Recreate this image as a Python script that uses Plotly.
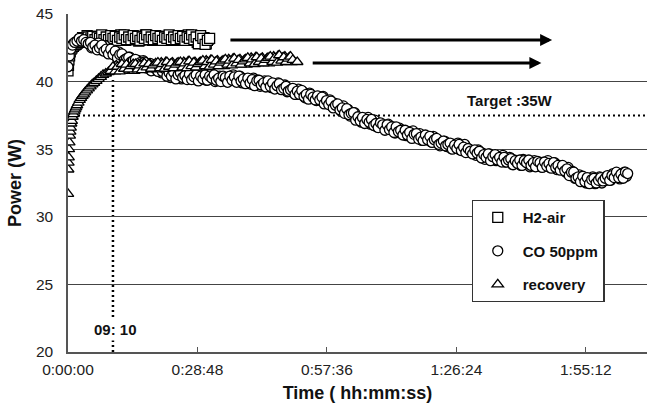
import plotly.graph_objects as go

# ---------------- data (time in minutes, power in W) ----------------
h2_time = [0, 0.1, 0.2, 0.35, 0.5, 0.7, 0.9, 1.2, 1.5, 1.8, 2.1, 2.4, 2.7,
           3.0, 3.5, 4.0, 4.5, 5.0, 5.5, 6.0, 6.5, 7.0, 7.5,
           8.0, 8.5, 9.0, 9.5, 10.0, 10.5, 11.0, 11.5, 12.0, 12.5,
           13.0, 13.5, 14.0, 14.5, 15.0, 15.5, 16.0, 16.5, 17.0, 17.5,
           18.0, 18.5, 19.0, 19.5, 20.0, 20.5, 21.0, 21.5, 22.0, 22.5,
           23.0, 23.5, 24.0, 24.5, 25.0, 25.5, 26.0, 26.5, 27.0, 27.5,
           28.0, 28.5, 29.0, 29.5, 30.0, 30.5, 31.0, 31.5]
h2_power = [40.8, 41.2, 41.6, 41.9, 42.2, 42.4, 42.5, 42.6, 42.7, 42.75, 42.85, 42.9, 43.0,
            43.1, 43.2, 43.05, 43.3, 43.15, 43.35, 43.1, 43.3, 43.2, 43.45,
            43.1, 43.3, 43.1, 43.4, 43.2, 43.35, 43.05, 43.3, 43.2, 43.45,
            43.1, 43.3, 43.1, 43.4, 43.2, 43.35, 43.05, 43.3, 43.2, 43.45,
            43.1, 43.3, 43.1, 43.4, 43.2, 43.35, 43.05, 43.3, 43.2, 43.45,
            43.1, 43.3, 43.1, 43.4, 43.2, 43.35, 43.05, 43.3, 43.2, 43.45,
            43.1, 43.3, 42.8, 43.4, 43.2, 42.75, 43.05, 43.2]
# intermediate samples (quarter minutes)
h2_time_q = [3.25, 3.75, 4.25, 4.75, 5.25, 5.75, 6.25, 6.75, 7.25, 7.75,
             8.25, 8.75, 9.25, 9.75, 10.25, 10.75, 11.25, 11.75, 12.25, 12.75,
             13.25, 13.75, 14.25, 14.75, 15.25, 15.75, 16.25, 16.75, 17.25, 17.75,
             18.25, 18.75, 19.25, 19.75, 20.25, 20.75, 21.25, 21.75, 22.25, 22.75,
             23.25, 23.75, 24.25, 24.75, 25.25, 25.75, 26.25, 26.75, 27.25, 27.75,
             28.25, 28.75, 29.25, 29.75, 30.25, 30.75, 31.25]
h2_power_q = [43.25, 43.05, 43.4, 43.15, 43.3, 43.0, 43.35, 43.2, 43.1, 43.4,
              43.2, 43.35, 43.05, 43.4, 43.15, 43.3, 43.1, 43.45, 43.2, 43.05,
              43.3, 43.1, 43.4, 43.2, 43.35, 43.0, 43.3, 43.15, 43.45, 43.1,
              43.25, 43.05, 43.4, 43.15, 43.3, 43.1, 43.35, 43.2, 43.05, 43.4,
              43.2, 43.35, 43.05, 43.4, 43.15, 43.3, 43.1, 43.45, 43.2, 43.05,
              43.3, 42.9, 43.35, 43.1, 43.25, 42.8, 43.15]

co_time = [0, 0.3, 0.6, 1, 1.5, 2, 2.5, 3, 3.5, 4, 4.5,
           5, 5.5, 6, 6.5, 7, 7.5, 8, 8.5, 9, 9.5,
           10, 10.5, 11, 11.5, 12, 12.5, 13, 13.5, 14, 14.5,
           15, 15.5, 16, 16.5, 17, 17.5, 18, 18.5, 19, 19.5,
           20, 20.5, 21, 21.5, 22, 22.5, 23, 23.5, 24, 24.5,
           25, 25.5, 26, 26.5, 27, 27.5, 28, 28.5, 29, 29.5,
           30, 30.5, 31, 31.5, 32, 32.5, 33, 33.5, 34, 34.5,
           35, 35.5, 36, 36.5, 37, 37.5, 38, 38.5, 39, 39.5,
           40, 40.5, 41, 41.5, 42, 42.5, 43, 43.5, 44, 44.5,
           45, 45.5, 46, 46.5, 47, 47.5, 48, 48.5, 49, 49.5,
           50, 50.5, 51, 51.5, 52, 52.5, 53, 53.5, 54, 54.5,
           55, 55.5, 56, 56.5, 57, 57.5, 58, 58.5, 59, 59.5,
           60, 60.5, 61, 61.5, 62, 62.5, 63, 63.5, 64, 64.5,
           65, 65.5, 66, 66.5, 67, 67.5, 68, 68.5, 69, 69.5,
           70, 70.5, 71, 71.5, 72, 72.5, 73, 73.5, 74, 74.5,
           75, 75.5, 76, 76.5, 77, 77.5, 78, 78.5, 79, 79.5,
           80, 80.5, 81, 81.5, 82, 82.5, 83, 83.5, 84, 84.5,
           85, 85.5, 86, 86.5, 87, 87.5, 88, 88.5, 89, 89.5,
           90, 90.5, 91, 91.5, 92, 92.5, 93, 93.5, 94, 94.5,
           95, 95.5, 96, 96.5, 97, 97.5, 98, 98.5, 99, 99.5,
           100, 100.5, 101, 101.5, 102, 102.5, 103, 103.5, 104, 104.5,
           105, 105.5, 106, 106.5, 107, 107.5, 108, 108.5, 109, 109.5,
           110, 110.5, 111, 111.5, 112, 112.5, 113, 113.5, 114, 114.5,
           115, 115.5, 116, 116.5, 117, 117.5, 118, 118.5, 119, 119.5,
           120, 120.5, 121, 121.5, 122, 122.5, 123, 123.5, 124, 124.5]
co_power = [41.1, 41.9, 42.4, 42.7, 42.9, 43.0, 43.2, 43.0, 43.1, 42.9, 42.8,
            42.9, 42.55, 42.7, 42.35, 42.5, 42.7, 42.25, 42.4, 42.05, 42.4,
            42.0, 42.25, 41.75, 42.0, 42.05, 41.6, 41.7, 41.8, 41.45, 41.55,
            41.65, 41.2, 41.4, 41.15, 41.45, 41.0, 41.15, 40.8, 41.15, 40.95,
            40.75, 41.05, 40.75, 40.95, 40.4, 40.65, 40.4, 40.7, 40.2, 40.5,
            40.65, 40.3, 40.45, 40.15, 40.55, 40.15, 40.35, 40.5, 40.05, 40.4,
            40.2, 40.5, 40.1, 40.4, 40.25, 40.5, 40.1, 40.25, 40.0, 40.4,
            40.3, 39.95, 40.4, 40.1, 40.35, 39.95, 40.4, 40.05, 40.2, 39.85,
            40.25, 39.9, 40.15, 39.7, 40.05, 40.1, 39.75, 39.9, 39.6, 40.05,
            39.65, 39.9, 39.45, 39.7, 39.85, 39.4, 39.5, 39.65, 39.3, 39.4,
            39.5, 39.05, 39.3, 39.05, 39.35, 38.9, 39.05, 38.7, 39.05, 38.85,
            38.65, 38.95, 38.65, 38.85, 38.35, 38.6, 38.3, 38.55, 38.05, 38.25,
            38.35, 37.9, 38.05, 37.65, 38.0, 37.55, 37.65, 37.7, 37.15, 37.4,
            37.1, 37.35, 36.9, 37.2, 37.0, 37.2, 36.75, 36.9, 36.6, 36.95,
            36.8, 36.4, 36.8, 36.45, 36.65, 36.25, 36.65, 36.3, 36.4, 36.05,
            36.4, 36.05, 36.25, 35.8, 36.1, 36.15, 35.75, 35.9, 35.65, 36.05,
            35.7, 35.95, 35.5, 35.7, 35.8, 35.35, 35.45, 35.6, 35.25, 35.35,
            35.45, 35.0, 35.3, 35.05, 35.35, 34.9, 35.15, 34.75, 35.05, 34.85,
            34.65, 34.95, 34.7, 34.85, 34.35, 34.6, 34.4, 34.65, 34.15, 34.45,
            34.6, 34.2, 34.4, 34.05, 34.4, 34.05, 34.2, 34.3, 33.85, 34.15,
            33.95, 34.2, 33.8, 34.15, 34.0, 34.2, 33.8, 34.0, 33.7, 34.1,
            34.0, 33.65, 34.05, 33.75, 33.95, 33.6, 34.0, 33.65, 33.8, 33.45,
            33.8, 33.4, 33.55, 33.05, 33.3, 33.3, 32.85, 32.95, 32.6, 33.0,
            32.6, 32.9, 32.45, 32.75, 32.85, 32.5, 32.7, 32.9, 32.65, 32.85,
            33.05, 32.7, 33.05, 32.9, 33.3, 32.9, 33.15, 32.85, 33.3, 33.2]
# intermediate samples (quarter minutes)
co_time_q = [5.25, 5.75, 6.25, 6.75, 7.25, 7.75, 8.25, 8.75, 9.25, 9.75,
             10.25, 10.75, 11.25, 11.75, 12.25, 12.75, 13.25, 13.75, 14.25, 14.75,
             15.25, 15.75, 16.25, 16.75, 17.25, 17.75, 18.25, 18.75, 19.25, 19.75,
             20.25, 20.75, 21.25, 21.75, 22.25, 22.75, 23.25, 23.75, 24.25, 24.75,
             25.25, 25.75, 26.25, 26.75, 27.25, 27.75, 28.25, 28.75, 29.25, 29.75,
             30.25, 30.75, 31.25, 31.75, 32.25, 32.75, 33.25, 33.75, 34.25, 34.75,
             35.25, 35.75, 36.25, 36.75, 37.25, 37.75, 38.25, 38.75, 39.25, 39.75,
             40.25, 40.75, 41.25, 41.75, 42.25, 42.75, 43.25, 43.75, 44.25, 44.75,
             45.25, 45.75, 46.25, 46.75, 47.25, 47.75, 48.25, 48.75, 49.25, 49.75,
             50.25, 50.75, 51.25, 51.75, 52.25, 52.75, 53.25, 53.75, 54.25, 54.75,
             55.25, 55.75, 56.25, 56.75, 57.25, 57.75, 58.25, 58.75, 59.25, 59.75,
             60.25, 60.75, 61.25, 61.75, 62.25, 62.75, 63.25, 63.75, 64.25, 64.75,
             65.25, 65.75, 66.25, 66.75, 67.25, 67.75, 68.25, 68.75, 69.25, 69.75,
             70.25, 70.75, 71.25, 71.75, 72.25, 72.75, 73.25, 73.75, 74.25, 74.75,
             75.25, 75.75, 76.25, 76.75, 77.25, 77.75, 78.25, 78.75, 79.25, 79.75,
             80.25, 80.75, 81.25, 81.75, 82.25, 82.75, 83.25, 83.75, 84.25, 84.75,
             85.25, 85.75, 86.25, 86.75, 87.25, 87.75, 88.25, 88.75, 89.25, 89.75,
             90.25, 90.75, 91.25, 91.75, 92.25, 92.75, 93.25, 93.75, 94.25, 94.75,
             95.25, 95.75, 96.25, 96.75, 97.25, 97.75, 98.25, 98.75, 99.25, 99.75,
             100.25, 100.75, 101.25, 101.75, 102.25, 102.75, 103.25, 103.75, 104.25, 104.75,
             105.25, 105.75, 106.25, 106.75, 107.25, 107.75, 108.25, 108.75, 109.25, 109.75,
             110.25, 110.75, 111.25, 111.75, 112.25, 112.75, 113.25, 113.75, 114.25, 114.75,
             115.25, 115.75, 116.25, 116.75, 117.25, 117.75, 118.25, 118.75, 119.25, 119.75,
             120.25, 120.75, 121.25, 121.75, 122.25, 122.75, 123.25, 123.75, 124.25]
co_power_q = [42.5, 42.8, 42.55, 42.85, 42.35, 42.5, 42.65, 42.15, 42.4, 42.2,
              42.2, 41.85, 42.2, 41.85, 41.95, 41.5, 41.75, 41.8, 41.4, 41.5,
              41.25, 41.55, 41.25, 41.55, 41.05, 41.2, 41.35, 40.85, 41.1, 40.85,
              41.0, 40.65, 41.0, 40.65, 40.75, 40.3, 40.55, 40.7, 40.3, 40.45,
              40.2, 40.55, 40.3, 40.65, 40.2, 40.35, 40.55, 40.1, 40.4, 40.2,
              40.4, 40.1, 40.55, 40.2, 40.4, 40.0, 40.3, 40.4, 40.05, 40.2,
              40.0, 40.35, 40.15, 40.5, 40.05, 40.2, 40.4, 39.9, 40.2, 39.95,
              40.15, 39.8, 40.25, 39.9, 40.1, 39.65, 39.95, 40.05, 39.65, 39.8,
              39.55, 39.85, 39.6, 39.9, 39.45, 39.6, 39.75, 39.25, 39.5, 39.25,
              39.4, 39.05, 39.45, 39.1, 39.25, 38.8, 39.05, 39.15, 38.75, 38.85,
              38.6, 38.9, 38.6, 38.9, 38.4, 38.55, 38.65, 38.15, 38.4, 38.1,
              38.2, 37.8, 38.2, 37.8, 37.95, 37.45, 37.65, 37.7, 37.25, 37.3,
              37.0, 37.3, 37.05, 37.35, 36.85, 37.0, 37.15, 36.65, 36.9, 36.65,
              36.8, 36.45, 36.85, 36.5, 36.65, 36.2, 36.45, 36.55, 36.15, 36.25,
              36.0, 36.3, 36.05, 36.35, 35.85, 36.0, 36.15, 35.65, 35.95, 35.7,
              35.9, 35.55, 35.95, 35.55, 35.7, 35.25, 35.5, 35.6, 35.2, 35.3,
              35.05, 35.35, 35.15, 35.45, 34.95, 35.1, 35.35, 34.8, 35.0, 34.75,
              34.9, 34.55, 34.95, 34.55, 34.7, 34.25, 34.55, 34.65, 34.25, 34.4,
              34.15, 34.45, 34.25, 34.55, 34.05, 34.25, 34.4, 33.9, 34.2, 33.95,
              34.15, 33.8, 34.25, 33.95, 34.15, 33.7, 34.0, 34.15, 33.75, 33.9,
              33.7, 34.05, 33.8, 34.15, 33.65, 33.85, 34.0, 33.5, 33.8, 33.55,
              33.7, 33.3, 33.65, 33.25, 33.35, 32.85, 33.05, 33.1, 32.65, 32.75,
              32.5, 32.85, 32.6, 32.95, 32.45, 32.7, 32.95, 32.5, 32.85, 32.7,
              32.95, 32.7, 33.2, 32.95, 33.2, 32.8, 33.15, 33.3, 33.0]

rec_time = [0, 0.05, 0.1, 0.15, 0.2, 0.3, 0.4, 0.5, 0.6, 0.7, 0.85,
            1.0, 1.2, 1.4, 1.6, 1.8, 2.0, 2.3, 2.6, 2.9, 3.2, 3.5, 3.8,
            4.2, 4.6, 5.0, 5.4, 5.8, 6.3, 6.8, 7.3, 7.8, 8.4, 9.0, 9.5,
            10, 10.5, 11, 11.5, 12, 12.5, 13, 13.5, 14, 14.5,
            15, 15.5, 16, 16.5, 17, 17.5, 18, 18.5, 19, 19.5,
            20, 20.5, 21, 21.5, 22, 22.5, 23, 23.5, 24, 24.5,
            25, 25.5, 26, 26.5, 27, 27.5, 28, 28.5, 29, 29.5,
            30, 30.5, 31, 31.5, 32, 32.5, 33, 33.5, 34, 34.5,
            35, 35.5, 36, 36.5, 37, 37.5, 38, 38.5, 39, 39.5,
            40, 40.5, 41, 41.5, 42, 42.5, 43, 43.5, 44, 44.5,
            45, 45.5, 46, 46.5, 47, 47.5, 48, 48.5, 49, 49.5,
            50, 51]
rec_power = [31.7, 33.5, 34.0, 34.4, 35.0, 35.5, 36.0, 36.3, 36.6, 36.9, 37.1,
             37.4, 37.6, 37.8, 37.95, 38.1, 38.25, 38.45, 38.65, 38.8, 38.95, 39.05, 39.2,
             39.35, 39.5, 39.65, 39.8, 39.9, 40.05, 40.2, 40.35, 40.5, 40.6, 40.7, 40.8,
             41.1, 40.75, 41.1, 40.75, 41.3, 40.95, 41.25, 40.9, 41.15, 41.3,
             41.3, 40.9, 41.2, 40.85, 41.35, 41.05, 41.3, 40.95, 41.2, 41.35,
             41.4, 41.0, 41.3, 40.95, 41.45, 41.1, 41.35, 41.0, 41.25, 41.4,
             41.45, 41.05, 41.35, 41.0, 41.5, 41.15, 41.4, 41.05, 41.3, 41.45,
             41.55, 41.15, 41.45, 41.1, 41.6, 41.25, 41.5, 41.15, 41.4, 41.55,
             41.65, 41.25, 41.55, 41.2, 41.7, 41.35, 41.6, 41.25, 41.5, 41.65,
             41.75, 41.35, 41.65, 41.3, 41.8, 41.45, 41.7, 41.35, 41.6, 41.75,
             41.85, 41.45, 41.75, 41.4, 41.95, 41.55, 41.8, 41.45, 41.7, 41.85,
             41.6, 41.45]
# intermediate samples (quarter minutes)
rec_time_q = [10.25, 10.75, 11.25, 11.75, 12.25, 12.75, 13.25, 13.75, 14.25, 14.75,
              15.25, 15.75, 16.25, 16.75, 17.25, 17.75, 18.25, 18.75, 19.25, 19.75,
              20.25, 20.75, 21.25, 21.75, 22.25, 22.75, 23.25, 23.75, 24.25, 24.75,
              25.25, 25.75, 26.25, 26.75, 27.25, 27.75, 28.25, 28.75, 29.25, 29.75,
              30.25, 30.75, 31.25, 31.75, 32.25, 32.75, 33.25, 33.75, 34.25, 34.75,
              35.25, 35.75, 36.25, 36.75, 37.25, 37.75, 38.25, 38.75, 39.25, 39.75,
              40.25, 40.75, 41.25, 41.75, 42.25, 42.75, 43.25, 43.75, 44.25, 44.75,
              45.25, 45.75, 46.25, 46.75, 47.25, 47.75, 48.25, 48.75, 49.25, 49.75]
rec_power_q = [40.85, 41.2, 40.95, 41.25, 40.8, 41.1, 41.2, 40.9, 41.15, 40.8,
               40.95, 41.3, 41.05, 41.35, 40.9, 41.2, 41.3, 41.0, 41.25, 40.9,
               41.05, 41.4, 41.15, 41.45, 41.0, 41.3, 41.4, 41.1, 41.35, 41.0,
               41.1, 41.45, 41.2, 41.5, 41.05, 41.35, 41.45, 41.15, 41.4, 41.05,
               41.2, 41.55, 41.3, 41.6, 41.15, 41.45, 41.55, 41.25, 41.5, 41.15,
               41.3, 41.65, 41.4, 41.7, 41.25, 41.55, 41.65, 41.35, 41.6, 41.25,
               41.4, 41.75, 41.5, 41.8, 41.35, 41.65, 41.75, 41.45, 41.7, 41.35,
               41.5, 41.85, 41.6, 41.9, 41.45, 41.75, 41.85, 41.55, 41.8, 41.45]

series_names = ["H2-air", "CO 50ppm", "recovery"]
x_tick_vals = [0, 28.8, 57.6, 86.4, 115.2]
x_tick_text = ["0:00:00", "0:28:48", "0:57:36", "1:26:24", "1:55:12"]
y_tick_vals = [20, 25, 30, 35, 40, 45]

target_power = 37.5
marker_time = 10.0          # the "09: 10" dotted guide line
marker_top = 40.3
arrow_h2 = (35.8, 107.7, 43.07)
arrow_rec = (54.1, 105.3, 41.37)

FONT = "Arial, 'Liberation Sans', sans-serif"

fig = go.Figure()
symbols = ["square", "circle", "triangle-up"]
series = [(h2_time_q + h2_time, h2_power_q + h2_power),
          (co_time_q + co_time, co_power_q + co_power),
          (rec_time_q + rec_time, rec_power_q + rec_power)]
for i, (t, p) in enumerate(series):
    fig.add_trace(go.Scatter(
        x=t, y=p, mode="markers", name=series_names[i], legendgroup=series_names[i],
        marker=dict(symbol=symbols[i], size=10, color="white",
                    line=dict(color="black", width=1.3)),
    ))

# dotted guide lines
fig.add_shape(type="line", xref="x", yref="y", x0=0, x1=128.8, y0=target_power, y1=target_power,
              line=dict(color="black", width=2, dash="2px,3px"), layer="below")
fig.add_shape(type="line", xref="x", yref="y", x0=marker_time, x1=marker_time, y0=20, y1=marker_top,
              line=dict(color="black", width=2.5, dash="2px,3px"), layer="below")

# arrows
for (x0, x1, y) in [arrow_h2, arrow_rec]:
    fig.add_annotation(x=x1, y=y, ax=x0, ay=y, xref="x", yref="y", axref="x", ayref="y",
                       text="", showarrow=True, arrowhead=2, arrowsize=0.8, arrowwidth=3,
                       arrowcolor="black")

fig.add_annotation(x=98.4, y=38.6, xref="x", yref="y", text="<b>Target :35W</b>",
                   showarrow=False, font=dict(family=FONT, size=15, color="#111"))
fig.add_annotation(x=10.5, y=21.7, xref="x", yref="y", text="<b>09: 10</b>",
                   showarrow=False, bgcolor="white", borderpad=2,
                   font=dict(family=FONT, size=15, color="#111"))

fig.update_layout(
    width=647, height=409,
    margin=dict(l=68, r=0, t=14, b=57),
    paper_bgcolor="white", plot_bgcolor="white",
    font=dict(family=FONT, color="#111"),
    showlegend=True,
    legend=dict(x=0.697, y=0.45, xanchor="left", yanchor="top",
                bgcolor="white", bordercolor="#333", borderwidth=1.2,
                font=dict(family=FONT, size=15, color="#111", weight="bold"),
                tracegroupgap=11, itemsizing="trace", itemwidth=40),
    xaxis=dict(range=[0, 128.8], tickvals=x_tick_vals, ticktext=x_tick_text, automargin=False,
               showgrid=False, zeroline=False, showline=True, linecolor="#555", linewidth=1.5,
               ticks="inside", ticklen=5, tickcolor="#555", ticklabelstandoff=3,
               tickfont=dict(family=FONT, size=15.5, color="#222"),
               title=dict(text="<b>Time ( hh:mm:ss)</b>", font=dict(family=FONT, size=18, color="#111"),
                          standoff=9)),
    yaxis=dict(range=[20, 45], tickvals=y_tick_vals, showgrid=True, gridcolor="#444", gridwidth=1,
               automargin=False,
               zeroline=False, showline=True, linecolor="#555", linewidth=1.5, ticks="",
               ticklabelstandoff=10,
               tickfont=dict(family=FONT, size=15.5, color="#222"),
               title=dict(text="<b>Power (W)</b>", font=dict(family=FONT, size=18, color="#111"),
                          standoff=10)),
)

fig.write_html("out.html", config={"displayModeBar": False},
               post_script="document.body.style.margin='0';")
